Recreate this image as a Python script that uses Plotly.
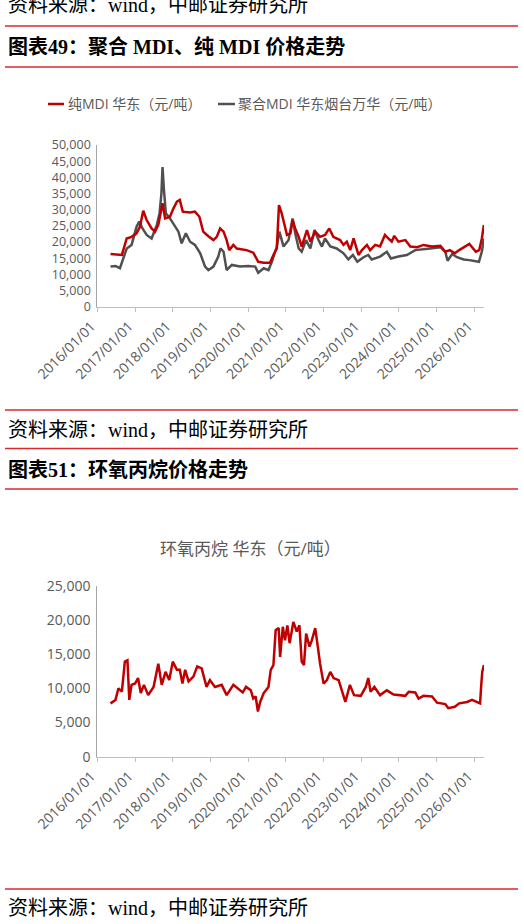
import plotly.graph_objects as go

# ---------------- data ----------------
mdi_pure_dates = [
    "2016-05-08", "2016-08-26", "2016-10-12", "2016-11-28", "2017-01-15", "2017-02-17", "2017-03-21",
    "2017-04-23", "2017-06-10", "2017-07-13", "2017-08-14", "2017-09-24", "2017-10-19", "2017-12-05",
    "2018-01-08", "2018-02-10", "2018-03-10", "2018-04-08", "2018-06-18", "2018-08-04", "2018-09-16",
    "2018-10-23", "2018-12-12", "2019-01-30", "2019-03-03", "2019-04-05", "2019-05-08", "2019-06-07",
    "2019-07-02", "2019-08-11", "2019-09-13", "2019-12-16", "2020-02-20", "2020-04-08", "2020-05-31",
    "2020-07-31", "2020-09-02", "2020-10-05", "2020-10-26", "2020-11-21", "2020-12-23", "2021-01-11",
    "2021-02-14", "2021-03-07", "2021-04-01", "2021-05-05", "2021-06-03", "2021-07-24", "2021-08-26",
    "2021-10-12", "2021-11-28", "2022-01-15", "2022-02-25", "2022-04-05", "2022-06-10", "2022-07-13",
    "2022-08-14", "2022-09-16", "2022-10-19", "2022-12-05", "2023-01-08", "2023-02-25", "2023-03-28",
    "2023-05-16", "2023-07-02", "2023-08-18", "2023-09-20", "2023-10-23", "2023-11-17", "2023-12-27",
    "2024-03-03", "2024-04-20", "2024-06-25", "2024-08-26", "2024-11-17", "2025-02-06", "2025-03-25",
    "2025-05-08", "2025-06-25", "2025-08-07", "2025-11-13", "2026-01-15", "2026-02-17", "2026-03-14",
    "2026-04-03",
]
mdi_pure_values = [
    16300, 16000, 21100, 21600, 22700, 24700, 29700,
    26800, 24200, 23200, 25300, 32000, 27300, 27800,
    30400, 32500, 33000, 29400, 29100, 29400, 27800,
    23200, 21800, 20600, 21600, 24200, 23200, 20600,
    17500, 19100, 18000, 17500, 16700, 13900, 13600,
    13600, 16000, 18000, 31400, 28900, 24700, 22200,
    22700, 26800, 24200, 21600, 18600, 23700, 20100,
    23200, 21600, 22200, 24200, 21600, 20600, 19100,
    20100, 17500, 21100, 16000, 17500, 19100, 17500,
    19100, 18600, 22200, 21100, 20100, 21900, 20100,
    20600, 18600, 18400, 19100, 18600, 18800, 17000,
    17500, 16500, 17500, 19400, 17000, 17500, 21100,
    25300,
]

mdi_poly_dates = [
    "2016-05-08", "2016-06-25", "2016-08-07", "2016-09-09", "2016-10-12", "2016-11-28", "2017-01-15",
    "2017-02-10", "2017-03-14", "2017-04-23", "2017-06-10", "2017-07-31", "2017-08-26", "2017-09-13",
    "2017-09-24", "2017-10-08", "2017-10-26", "2017-12-05", "2018-01-23", "2018-02-25", "2018-03-28",
    "2018-05-08", "2018-06-18", "2018-08-04", "2018-09-24", "2018-11-10", "2018-12-12", "2019-01-30",
    "2019-03-18", "2019-04-08", "2019-05-08", "2019-06-07", "2019-07-27", "2019-10-15", "2020-01-04",
    "2020-03-10", "2020-04-08", "2020-05-31", "2020-07-16", "2020-08-18", "2020-10-05", "2020-10-30",
    "2020-12-09", "2021-01-27", "2021-03-07", "2021-04-01", "2021-05-05", "2021-06-03", "2021-07-16",
    "2021-08-26", "2021-10-05", "2021-11-13", "2021-12-16", "2022-01-15", "2022-03-07", "2022-05-08",
    "2022-07-13", "2022-08-29", "2022-10-12", "2022-11-24", "2023-01-23", "2023-03-10", "2023-04-12",
    "2023-07-02", "2023-09-06", "2023-10-15", "2023-12-27", "2024-03-18", "2024-06-07", "2024-08-11",
    "2024-10-30", "2025-02-06", "2025-03-25", "2025-04-16", "2025-05-31", "2025-07-16", "2025-09-20",
    "2025-11-13", "2026-02-14", "2026-03-14", "2026-04-03",
]
mdi_poly_values = [
    12400, 12600, 11900, 14900, 18000, 19100, 24700,
    26300, 24200, 22200, 21100, 25300, 28900, 35000,
    43200, 36000, 28900, 27300, 24700, 23200, 19600,
    22700, 20100, 19100, 16500, 12400, 11300, 12400,
    15500, 18000, 17000, 11300, 12900, 12400, 12600,
    12400, 10500, 11900, 11300, 13900, 18600, 23200,
    18600, 20600, 27300, 22700, 18000, 17000, 20600,
    18000, 23700, 20600, 18600, 21100, 18600, 18000,
    16500, 14600, 16000, 13900, 15300, 16000, 14600,
    15500, 17000, 14900, 15500, 16000, 17500, 17800,
    18000, 18400, 17000, 14200, 16300, 15300, 14600,
    14400, 13900, 17000, 21100,
]

po_dates = [
    "2016-05-08", "2016-06-25", "2016-07-24", "2016-08-26", "2016-09-24", "2016-10-19", "2016-11-06",
    "2016-11-28", "2017-01-01", "2017-01-30", "2017-02-25", "2017-03-28", "2017-05-08", "2017-06-29",
    "2017-08-14", "2017-09-16", "2017-10-23", "2017-11-28", "2018-01-01", "2018-02-10", "2018-03-10",
    "2018-04-05", "2018-05-01", "2018-06-03", "2018-07-20", "2018-08-26", "2018-10-08", "2018-11-24",
    "2018-12-27", "2019-02-14", "2019-04-20", "2019-06-07", "2019-08-11", "2019-09-27", "2019-11-10",
    "2019-12-12", "2020-01-27", "2020-02-20", "2020-03-14", "2020-04-05", "2020-04-27", "2020-05-31",
    "2020-07-16", "2020-08-07", "2020-09-02", "2020-09-24", "2020-10-23", "2020-11-06", "2020-12-02",
    "2020-12-23", "2021-01-15", "2021-02-06", "2021-03-14", "2021-04-16", "2021-05-12", "2021-06-03",
    "2021-06-25", "2021-07-16", "2021-08-18", "2021-09-09", "2021-10-12", "2021-11-06", "2021-11-28",
    "2022-01-01", "2022-02-02", "2022-03-07", "2022-04-08", "2022-05-27", "2022-06-29", "2022-07-31",
    "2022-09-13", "2022-10-23", "2022-12-27", "2023-02-14", "2023-03-10", "2023-04-01", "2023-05-08",
    "2023-07-02", "2023-09-06", "2023-11-10", "2024-03-03", "2024-04-05", "2024-06-07", "2024-07-09",
    "2024-08-26", "2024-11-17", "2025-01-04", "2025-03-25", "2025-04-23", "2025-06-25", "2025-08-07",
    "2025-10-23", "2025-12-09", "2026-01-23", "2026-02-25", "2026-03-07", "2026-03-18", "2026-04-03",
]
po_values = [
    7800, 8300, 10000, 9500, 13900, 14100, 8300,
    10500, 10700, 11500, 9300, 10500, 9000, 10200,
    13600, 10500, 12400, 11200, 13900, 12700, 12700,
    10700, 12700, 11000, 11700, 13200, 12900, 10200,
    11200, 10200, 10500, 9000, 10500, 10000, 9400,
    10200, 9700, 8500, 8800, 6600, 8000, 9300,
    10200, 12700, 13400, 18500, 18800, 14600, 19000,
    17000, 19200, 16600, 19700, 18300, 19200, 13900,
    13400, 18000, 16100, 17000, 18800, 16100, 13600,
    10700, 11200, 12400, 11500, 11200, 9700, 8000,
    10500, 9000, 8900, 10200, 11500, 9500, 10200,
    9000, 9700, 9100, 8900, 9500, 9400, 8500,
    8900, 8800, 7900, 7700, 7100, 7300, 7800,
    8000, 8300, 8000, 7800, 10200, 12400, 13400,
]

series1_names = ["纯MDI 华东（元/吨）", "聚合MDI 华东烟台万华（元/吨）"]
series2_name = "环氧丙烷 华东（元/吨）"
fig1_title = "图表49：聚合 MDI、纯 MDI 价格走势"
fig2_title = "图表51：环氧丙烷价格走势"
source_text = "资料来源：wind，中邮证券研究所"

# ---------------- styling / layout ----------------
W, H = 524, 924
def px(x):
    return x / W
def py(y):
    return 1 - y / H

RED = "#C00000"
GRAY = "#505050"
SEP = "#D9292F"
TXT = "#595959"
SANS = "Open Sans, Noto Sans CJK SC, sans-serif"
SERIF = "Liberation Serif, Noto Sans CJK SC, serif"

fig = go.Figure()
fig.add_trace(go.Scatter(x=mdi_poly_dates, y=mdi_poly_values, mode="lines", name=series1_names[1],
                         line=dict(color=GRAY, width=2.5), xaxis="x", yaxis="y"))
fig.add_trace(go.Scatter(x=mdi_pure_dates, y=mdi_pure_values, mode="lines", name=series1_names[0],
                         line=dict(color=RED, width=2.5), xaxis="x", yaxis="y"))
fig.add_trace(go.Scatter(x=po_dates, y=po_values, mode="lines", name=series2_name,
                         line=dict(color=RED, width=2.5), xaxis="x2", yaxis="y2"))

x_range = ["2016-01-01", "2026-04-04"]
xcommon = dict(type="date", range=x_range, tickformat="%Y/%m/%d", dtick="M12", tick0="2016-01-01",
               tickangle=-45, ticks="outside", ticklen=4, tickcolor="#BFBFBF", showline=True,
               linecolor="#BFBFBF", linewidth=1, showgrid=False, zeroline=False, automargin=False,
               ticklabelstandoff=1, ticklabelshift=-6, tickfont=dict(family=SANS, size=14, color=TXT))
ycommon = dict(showline=True, linecolor="#A6A6A6", linewidth=1, showgrid=False, zeroline=False,
               ticks="", tickformat=",d", ticklabelstandoff=3, automargin=False)

fig.update_layout(
    width=W, height=H, margin=dict(l=0, r=0, t=0, b=0, pad=0), autosize=False,
    paper_bgcolor="white", plot_bgcolor="white", showlegend=False,
    xaxis=dict(domain=[px(97.3), px(484)], anchor="y", **xcommon),
    yaxis=dict(domain=[py(306.7), py(145)], range=[0, 50000], dtick=5000, anchor="x",
               tickfont=dict(family=SANS, size=12.5, color=TXT), **ycommon),
    xaxis2=dict(domain=[px(97.3), px(484)], anchor="y2", **xcommon),
    yaxis2=dict(domain=[py(756.7), py(585.7)], range=[0, 25000], dtick=5000, anchor="x2",
                tickfont=dict(family=SANS, size=14, color=TXT), **ycommon),
)

shapes = []
for yy in [26, 67, 410, 448.5, 489, 889]:
    shapes.append(dict(type="line", xref="paper", yref="paper", x0=px(5), x1=px(518),
                       y0=py(yy), y1=py(yy), line=dict(color=SEP, width=1.5)))
# legend samples
shapes.append(dict(type="line", xref="paper", yref="paper", x0=px(48), x1=px(64), y0=py(104), y1=py(104),
                   line=dict(color=RED, width=2.5)))
shapes.append(dict(type="line", xref="paper", yref="paper", x0=px(218), x1=px(235), y0=py(104), y1=py(104),
                   line=dict(color=GRAY, width=2.5)))

ann = []
def text(x, y, s, size, color="black", family=SERIF, anchor="left", bold=False):
    ann.append(dict(xref="paper", yref="paper", x=px(x), y=py(y), xanchor=anchor, yanchor="middle",
                    text=("<b>%s</b>" % s) if bold else s, showarrow=False,
                    font=dict(family=family, size=size, color=color)))

text(6, 5, source_text, 20)
text(6, 47, fig1_title, 20, bold=True)
text(66, 104, series1_names[0], 14, TXT, SANS)
text(236, 104, series1_names[1], 14, TXT, SANS)
text(6, 430, source_text, 20)
text(6, 470, fig2_title, 20, bold=True)
text(250, 548, series2_name, 17, TXT, SANS, anchor="center")
text(6, 908, source_text, 20)

fig.update_layout(shapes=shapes, annotations=ann)
fig.write_html("out.html", config={"displayModeBar": False},
               post_script="document.body.style.margin='0';document.body.style.overflow='hidden';")
